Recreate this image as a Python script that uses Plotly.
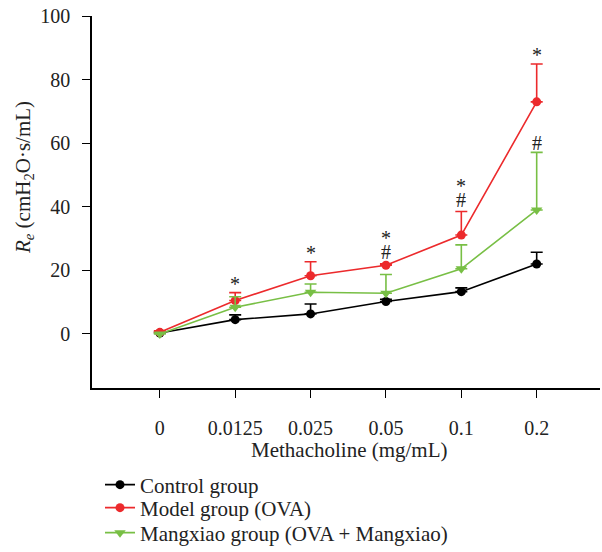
import plotly.graph_objects as go

doses = ["0", "0.0125", "0.025", "0.05", "0.1", "0.2"]

control_mean = [0.3, 4.5, 6.3, 10.2, 13.3, 22.0]
control_err = [0.3, 1.5, 3.1, 0.7, 1.2, 3.7]

model_mean = [0.5, 10.5, 18.3, 21.6, 31.1, 73.0]
model_err = [0.5, 2.5, 4.4, 0.5, 7.4, 11.9]

mangxiao_mean = [0.0, 8.4, 13.1, 12.8, 20.5, 39.0]
mangxiao_err = [0.3, 3.3, 2.6, 5.9, 7.5, 18.1]

# significance marks above the error bars (bottom to top)
model_marks = [[], ["*"], ["*"], ["#", "*"], ["#", "*"], ["*"]]
mangxiao_marks = [[], [], [], [], [], ["#"]]

x_title = "Methacholine (mg/mL)"
y_title = "<i>R</i><sub><i>e</i></sub> (cmH<sub>2</sub>O·s/mL)"

RED = "#ec2a2c"
GREEN = "#78bf45"
BLACK = "#000000"
FONT = "Liberation Serif"
TXT = "#222222"

fig = go.Figure()

def add_series(name, y, err, color, symbol, size, legend):
    fig.add_trace(go.Scatter(
        x=doses, y=y, name=name, mode="lines+markers", legend=legend,
        line=dict(color=color, width=1.6),
        marker=dict(color=color, symbol=symbol, size=size),
        error_y=dict(type="data", array=err, arrayminus=[0] * len(err),
                     symmetric=False, color=color, thickness=1.6, width=6),
    ))

add_series("Control group", control_mean, control_err, BLACK, "circle", 9, "legend")
add_series("Model group (OVA)", model_mean, model_err, RED, "circle", 9, "legend2")
add_series("Mangxiao group (OVA + Mangxiao)", mangxiao_mean, mangxiao_err, GREEN,
           "triangle-down", 10, "legend3")

annotations = []
def add_marks(means, errs, marks, hash_shift):
    for i, (m, e, mk) in enumerate(zip(means, errs, marks)):
        for j, s in enumerate(mk):
            if j == 0:
                shift = 9 if s == "*" else hash_shift
            else:
                shift = 26
            annotations.append(dict(x=i, y=m + e, xref="x", yref="y", text=s,
                                    showarrow=False, yanchor="middle", yshift=shift,
                                    font=dict(family=FONT, size=20, color=TXT)))

add_marks(model_mean, model_err, model_marks, 12)
add_marks(mangxiao_mean, mangxiao_err, mangxiao_marks, 9)

annotations.append(dict(text=x_title, xref="paper", yref="paper",
                        x=(349 - 92) / 508, y=(388 - 450) / 372,
                        xanchor="center", yanchor="middle", showarrow=False,
                        font=dict(family=FONT, size=21, color=TXT)))
annotations.append(dict(text=y_title, xref="paper", yref="paper",
                        x=(24 - 92) / 508, y=(388 - 178) / 372, textangle=-90,
                        xanchor="center", yanchor="middle", showarrow=False,
                        font=dict(family=FONT, size=21, color=TXT)))

legend_style = dict(x=100 / 602, xanchor="left", yanchor="middle",
                    xref="container", yref="container",
                    font=dict(family=FONT, size=21, color=TXT),
                    bgcolor="rgba(0,0,0,0)")

fig.update_layout(
    width=602, height=552,
    margin=dict(l=92, r=2, t=16, b=164, autoexpand=False),
    paper_bgcolor="white", plot_bgcolor="white",
    font=dict(family=FONT, size=20, color=TXT),
    showlegend=True,
    legend=dict(y=1 - 485 / 552, **legend_style),
    legend2=dict(y=1 - 508 / 552, **legend_style),
    legend3=dict(y=1 - 533 / 552, **legend_style),
    annotations=annotations,
    xaxis=dict(type="category", range=[-0.9, 5.84], showline=True,
               linecolor="black", linewidth=1.5, ticks="outside", ticklen=8,
               tickwidth=1.2, tickcolor="black", showgrid=False, zeroline=False,
               automargin=False, tickfont=dict(size=20), ticklabelstandoff=13),
    yaxis=dict(range=[-17, 100], tickvals=[0, 20, 40, 60, 80, 100],
               showline=True, linecolor="black", linewidth=1.5,
               ticks="outside", ticklen=8, tickwidth=1.2, tickcolor="black",
               showgrid=False, zeroline=False, automargin=False,
               tickfont=dict(size=20), ticklabelstandoff=8),
)

fig.write_html("out.html", config={"displayModeBar": False},
               post_script="document.body.style.margin='0';")
